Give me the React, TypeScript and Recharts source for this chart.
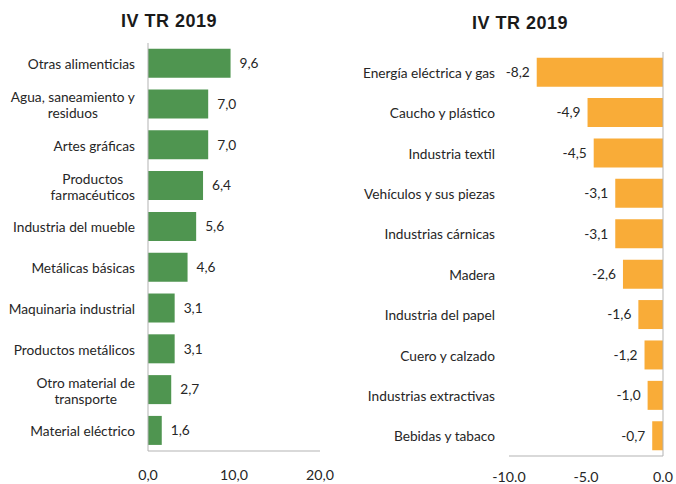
import React from 'react';
import { BarChart, Bar, XAxis, YAxis, LabelList, ReferenceLine } from 'recharts';

// Left panel: sectors with positive change
const upCategories = [
  'Otras alimenticias',
  'Agua, saneamiento y\nresiduos',
  'Artes gráficas',
  'Productos\nfarmacéuticos',
  'Industria del mueble',
  'Metálicas básicas',
  'Maquinaria industrial',
  'Productos metálicos',
  'Otro material de\ntransporte',
  'Material eléctrico',
];
const upValues = [9.6, 7.0, 7.0, 6.4, 5.6, 4.6, 3.1, 3.1, 2.7, 1.6];
const upTicks = [0, 10, 20];

// Right panel: sectors with negative change
const downCategories = [
  'Energía eléctrica y gas',
  'Caucho y plástico',
  'Industria textil',
  'Vehículos y sus piezas',
  'Industrias cárnicas',
  'Madera',
  'Industria del papel',
  'Cuero y calzado',
  'Industrias extractivas',
  'Bebidas y tabaco',
];
const downValues = [-8.2, -4.9, -4.5, -3.1, -3.1, -2.6, -1.6, -1.2, -1.0, -0.7];
const downTicks = [-10, -5, 0];

const title = 'IV TR 2019';

const upData = upCategories.map((name, i) => ({ name, value: upValues[i] }));
const downData = downCategories.map((name, i) => ({ name, value: downValues[i] }));

const FONT = 'Lato, "Open Sans", sans-serif';
const FONT_SIZE = 13.7;
const TEXT = '#262626';
const AXIS = '#B3B3B3';

let ctx: CanvasRenderingContext2D | null = null;
const measure = (s: string) => {
  if (!ctx) ctx = document.createElement('canvas').getContext('2d');
  if (!ctx) return s.length * 6;
  ctx.font = `${FONT_SIZE}px ${FONT}`;
  return ctx.measureText(s).width;
};

const CategoryTick = ({ y, payload, rightX }: any) => {
  const lines = String(payload.value).split('\n');
  if (lines.length === 1) {
    return (
      <text x={rightX} y={y} textAnchor="end" dominantBaseline="central"
        fontFamily={FONT} fontSize={FONT_SIZE} fill={TEXT}>
        {lines[0]}
      </text>
    );
  }
  const w = Math.max(...lines.map(measure));
  const cx = rightX - w / 2;
  const lh = 15.5;
  return (
    <text x={cx} y={y} textAnchor="middle" dominantBaseline="central"
      fontFamily={FONT} fontSize={FONT_SIZE} fill={TEXT}>
      {lines.map((l, i) => (
        <tspan key={i} x={cx} dy={i === 0 ? -((lines.length - 1) * lh) / 2 : lh}>{l}</tspan>
      ))}
    </text>
  );
};

const ValueTick = ({ x, y, payload, sep, dy }: any) => (
  <text x={x} y={y} dy={dy} textAnchor="middle" fontFamily={FONT} fontSize={FONT_SIZE + 0.5} fill={TEXT}>
    {Number(payload.value).toFixed(1).replace('.', sep)}
  </text>
);

const fmtComma = (v: any) => Number(v).toFixed(1).replace('.', ',');

const titleStyle = (cx: number, cy: number): React.CSSProperties => ({
  position: 'absolute',
  left: cx - 80,
  top: cy - 11,
  width: 160,
  height: 22,
  lineHeight: '22px',
  textAlign: 'center',
  fontFamily: '"Liberation Sans", Arial, sans-serif',
  fontWeight: 'bold',
  fontSize: 18,
  letterSpacing: 0.5,
  color: '#1a1a1a',
});

export default function App() {
  return (
    <div style={{ position: 'absolute', left: 0, top: 0, width: 676, height: 484, background: '#fff', overflow: 'hidden' }}>
      <div style={titleStyle(169, 21)}>{title}</div>
      <div style={titleStyle(520, 23)}>{title}</div>

      <div style={{ position: 'absolute', left: 0, top: 0 }}>
        <BarChart width={340} height={484} layout="vertical" data={upData}
          margin={{ top: 43, right: 20, bottom: 0, left: 0 }} barCategoryGap="14%">
          <XAxis type="number" domain={[0, 20]} ticks={upTicks} axisLine={{ stroke: AXIS }}
            tickLine={false} height={33} tick={(p: any) => <ValueTick {...p} sep="," dy={21} />} />
          <YAxis type="category" dataKey="name" width={148} axisLine={{ stroke: AXIS }}
            tickLine={false} interval={0} tick={(p: any) => <CategoryTick {...p} rightX={135} />} />
          <Bar dataKey="value" fill="#4F9550" isAnimationActive={false}>
            <LabelList dataKey="value" position="right" offset={9} formatter={fmtComma}
              style={{ fontFamily: FONT, fontSize: FONT_SIZE, fill: TEXT }} />
          </Bar>
        </BarChart>
      </div>

      <div style={{ position: 'absolute', left: 340, top: 0 }}>
        <BarChart width={336} height={484} layout="vertical" data={downData}
          margin={{ top: 52, right: 13, bottom: 0, left: 0 }} barCategoryGap="14%">
          <XAxis type="number" domain={[-10, 0]} ticks={downTicks} axisLine={{ stroke: AXIS }}
            tickLine={false} height={28} tick={(p: any) => <ValueTick {...p} sep="." dy={18} />} />
          <YAxis type="category" dataKey="name" width={169} axisLine={false}
            tickLine={false} interval={0} tick={(p: any) => <CategoryTick {...p} rightX={155} />} />
          <ReferenceLine x={0} stroke={AXIS} />
          <Bar dataKey="value" fill="#F9AC38" isAnimationActive={false}>
            <LabelList dataKey="value" position="right" offset={7} formatter={fmtComma}
              style={{ fontFamily: FONT, fontSize: FONT_SIZE, fill: TEXT }} />
          </Bar>
        </BarChart>
      </div>
    </div>
  );
}
